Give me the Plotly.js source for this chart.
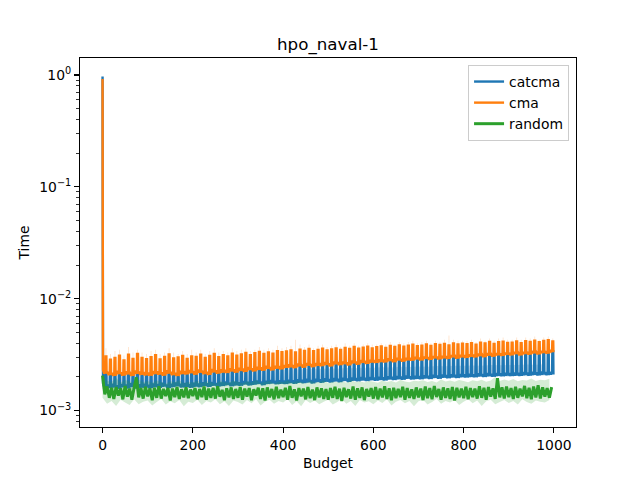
<!DOCTYPE html>
<html>
<head>
<meta charset="utf-8">
<script src="https://cdn.plot.ly/plotly-3.0.1.min.js"></script>
<style>
  html, body { margin: 0; padding: 0; background: #fff; }
  #chart { width: 640px; height: 480px; }
</style>
</head>
<body>
<div id="chart"></div>
<script>
// all readings below are in thousandths of a second (x 1e-3)
var UNIT = 1e-3;

var seriesNames = ['catcma', 'cma', 'random'];
var seriesColors = ['#1f77b4', '#ff7f0e', '#2ca02c'];
var bandColors = ['rgba(31,119,180,0.2)', 'rgba(255,127,14,0.2)', 'rgba(44,160,44,0.2)'];

// first evaluation (budget 0), real seconds
var catcmaStart = 0.97;
var cmaStart = 0.92;

// per 10 evaluations (budget 0, 10, ..., 990): two trough readings and one peak
var catcmaLow = [
  1.75, 1.70, 1.74, 1.68, 1.73, 1.71, 1.76, 1.69, 1.72, 1.74,
  1.70, 1.75, 1.72, 1.77, 1.71, 1.74, 1.78, 1.73, 1.76, 1.72,
  1.77, 1.74, 1.79, 1.75, 1.80, 1.76, 1.78, 1.82, 1.77, 1.81,
  1.79, 1.84, 1.80, 1.83, 1.86, 1.81, 1.85, 1.88, 1.84, 1.87,
  1.85, 1.89, 1.86, 1.91, 1.88, 1.92, 1.87, 1.93, 1.90, 1.94,
  1.91, 1.95, 1.92, 1.97, 1.93, 1.98, 1.95, 1.99, 1.96, 2.00,
  1.97, 2.01, 1.98, 2.03, 2.00, 2.04, 2.01, 2.06, 2.02, 2.05,
  2.03, 2.07, 2.04, 2.09, 2.05, 2.10, 2.07, 2.11, 2.08, 2.12,
  2.10, 2.13, 2.11, 2.15, 2.12, 2.16, 2.13, 2.17, 2.15, 2.18,
  2.16, 2.19, 2.17, 2.21, 2.18, 2.22, 2.19, 2.23, 2.20, 2.22
];
var catcmaLowB = [
  1.62, 1.60, 1.61, 1.57, 1.62, 1.58, 1.63, 1.58, 1.60, 1.61,
  1.59, 1.62, 1.60, 1.64, 1.59, 1.62, 1.65, 1.61, 1.63, 1.60,
  1.64, 1.62, 1.66, 1.63, 1.67, 1.64, 1.66, 1.69, 1.65, 1.68,
  1.67, 1.71, 1.68, 1.71, 1.73, 1.69, 1.73, 1.75, 1.72, 1.74,
  1.73, 1.76, 1.74, 1.78, 1.76, 1.79, 1.75, 1.80, 1.78, 1.81,
  1.79, 1.82, 1.80, 1.84, 1.81, 1.85, 1.83, 1.86, 1.84, 1.87,
  1.85, 1.88, 1.86, 1.90, 1.88, 1.91, 1.89, 1.93, 1.90, 1.92,
  1.91, 1.94, 1.92, 1.96, 1.93, 1.97, 1.95, 1.98, 1.96, 1.99,
  1.98, 2.00, 1.99, 2.02, 2.00, 2.03, 2.01, 2.04, 2.03, 2.05,
  2.04, 2.06, 2.05, 2.08, 2.06, 2.09, 2.07, 2.10, 2.08, 2.10
];
var catcmaPeak = [
  2.20, 2.12, 2.10, 2.18, 2.08, 2.15, 2.05, 2.20, 2.14, 2.10,
  2.08, 2.18, 2.15, 2.10, 2.22, 2.12, 2.08, 2.20, 2.16, 2.24,
  2.15, 2.25, 2.18, 2.12, 2.28, 2.20, 2.26, 2.22, 2.32, 2.25,
  2.34, 2.28, 2.38, 2.30, 2.40, 2.35, 2.44, 2.36, 2.46, 2.42,
  2.48, 2.52, 2.46, 2.58, 2.50, 2.60, 2.52, 2.58, 2.58, 2.64,
  2.56, 2.68, 2.62, 2.68, 2.60, 2.74, 2.66, 2.76, 2.70, 2.78,
  2.75, 2.80, 2.78, 2.86, 2.78, 2.90, 2.82, 2.90, 2.88, 2.96,
  2.88, 2.98, 2.92, 3.02, 2.96, 3.02, 3.00, 3.08, 3.00, 3.08,
  3.05, 3.10, 3.08, 3.16, 3.08, 3.20, 3.12, 3.20, 3.18, 3.24,
  3.20, 3.28, 3.20, 3.30, 3.26, 3.34, 3.26, 3.36, 3.32, 3.40
];

var cmaLow = [
  2.30, 2.21, 2.17, 2.27, 2.19, 2.25, 2.16, 2.28, 2.23, 2.20,
  2.18, 2.26, 2.24, 2.19, 2.29, 2.22, 2.17, 2.27, 2.25, 2.31,
  2.24, 2.33, 2.26, 2.22, 2.35, 2.28, 2.34, 2.31, 2.39, 2.33,
  2.41, 2.37, 2.45, 2.38, 2.46, 2.43, 2.51, 2.44, 2.52, 2.49,
  2.56, 2.59, 2.55, 2.64, 2.57, 2.67, 2.60, 2.66, 2.65, 2.71,
  2.64, 2.74, 2.70, 2.75, 2.69, 2.80, 2.73, 2.83, 2.77, 2.84,
  2.82, 2.87, 2.85, 2.93, 2.86, 2.96, 2.89, 2.97, 2.95, 3.02,
  2.96, 3.05, 2.99, 3.08, 3.03, 3.09, 3.06, 3.14, 3.07, 3.15,
  3.12, 3.18, 3.15, 3.23, 3.16, 3.26, 3.19, 3.27, 3.24, 3.30,
  3.27, 3.35, 3.28, 3.36, 3.33, 3.41, 3.34, 3.42, 3.39, 3.47
];
var cmaLowB = [
  2.14, 2.08, 2.05, 2.12, 2.06, 2.11, 2.04, 2.13, 2.09, 2.07,
  2.05, 2.12, 2.10, 2.06, 2.14, 2.08, 2.04, 2.12, 2.11, 2.16,
  2.10, 2.18, 2.12, 2.09, 2.20, 2.14, 2.19, 2.17, 2.24, 2.19,
  2.26, 2.22, 2.30, 2.24, 2.31, 2.28, 2.36, 2.29, 2.37, 2.34,
  2.41, 2.44, 2.40, 2.49, 2.42, 2.52, 2.45, 2.51, 2.50, 2.56,
  2.49, 2.59, 2.55, 2.60, 2.54, 2.65, 2.58, 2.68, 2.62, 2.69,
  2.67, 2.72, 2.70, 2.78, 2.71, 2.81, 2.74, 2.82, 2.80, 2.87,
  2.81, 2.90, 2.84, 2.93, 2.88, 2.94, 2.91, 2.99, 2.92, 3.00,
  2.97, 3.03, 3.00, 3.08, 3.01, 3.11, 3.04, 3.12, 3.09, 3.15,
  3.12, 3.20, 3.13, 3.21, 3.18, 3.26, 3.19, 3.27, 3.24, 3.32
];
var cmaPeak = [
  3.05, 2.85, 2.95, 3.10, 2.80, 3.15, 2.90, 3.20, 2.95, 2.88,
  3.00, 3.12, 2.86, 3.02, 3.18, 2.92, 2.98, 3.08, 2.90, 3.05,
  3.02, 3.15, 2.95, 3.08, 3.20, 3.00, 3.12, 3.05, 3.22, 3.10,
  3.18, 3.28, 3.12, 3.25, 3.35, 3.20, 3.30, 3.22, 3.40, 3.32,
  3.38, 3.45, 3.30, 3.50, 3.42, 3.55, 3.40, 3.48, 3.58, 3.45,
  3.52, 3.60, 3.48, 3.62, 3.55, 3.70, 3.58, 3.65, 3.72, 3.60,
  3.68, 3.75, 3.62, 3.78, 3.70, 3.82, 3.72, 3.80, 3.88, 3.76,
  3.80, 3.90, 3.78, 3.92, 3.85, 3.95, 3.82, 3.98, 3.90, 3.96,
  3.92, 4.00, 3.88, 4.05, 3.98, 4.10, 3.95, 4.08, 4.12, 4.02,
  4.05, 4.15, 4.00, 4.18, 4.10, 4.22, 4.08, 4.20, 4.25, 4.15
];
// upper edge of the cma spread at each peak
var cmaPeakTop = [
  3.6, 3.2, 3.4, 3.5, 3.1, 3.7, 3.3, 3.5, 3.3, 3.2,
  3.4, 3.5, 3.2, 3.3, 3.6, 3.3, 3.2, 3.4, 3.2, 3.5,
  3.3, 3.5, 3.2, 3.4, 3.6, 3.3, 3.4, 3.3, 3.6, 3.4,
  3.5, 3.6, 3.4, 3.5, 3.7, 3.5, 3.6, 3.5, 3.8, 3.6,
  3.7, 3.8, 4.3, 3.9, 3.7, 3.9, 3.6, 3.8, 3.9, 3.7,
  3.8, 3.9, 3.7, 4.0, 3.8, 4.0, 3.8, 3.9, 4.0, 3.9,
  3.9, 4.0, 3.9, 4.1, 3.9, 4.1, 4.0, 4.1, 4.2, 4.0,
  4.1, 4.2, 4.0, 4.2, 4.1, 4.3, 4.7, 4.3, 4.2, 4.2,
  4.2, 4.3, 4.1, 4.4, 4.2, 4.4, 4.2, 4.4, 4.5, 4.3,
  4.3, 4.5, 4.3, 4.5, 4.4, 4.6, 4.3, 4.5, 4.6, 4.4
];

// catcma spread, one pair per 20 evaluations (budget 0, 20, ..., 980)
var catcmaBandLow = [
  1.56, 1.54, 1.58, 1.55, 1.59, 1.57, 1.61, 1.60, 1.63, 1.62,
  1.65, 1.64, 1.68, 1.66, 1.70, 1.69, 1.72, 1.71, 1.75, 1.73,
  1.77, 1.76, 1.79, 1.78, 1.82, 1.80, 1.84, 1.83, 1.86, 1.85,
  1.88, 1.87, 1.90, 1.89, 1.93, 1.91, 1.95, 1.94, 1.97, 1.96,
  1.99, 1.98, 2.01, 2.00, 2.03, 2.01, 2.05, 2.03, 2.06, 2.05
];
var catcmaBandHigh = [
  2.08, 2.10, 2.09, 2.13, 2.11, 2.15, 2.14, 2.17, 2.16, 2.20,
  2.19, 2.22, 2.21, 2.25, 2.24, 2.27, 2.26, 2.30, 2.29, 2.32,
  2.31, 2.34, 2.33, 2.36, 2.35, 2.38, 2.37, 2.40, 2.39, 2.42,
  2.41, 2.44, 2.43, 2.46, 2.45, 2.48, 2.47, 2.50, 2.49, 2.52,
  2.51, 2.53, 2.52, 2.55, 2.54, 2.56, 2.55, 2.58, 2.57, 2.59
];

// random, one reading per 5 evaluations (budget 0, 5, ..., 995)
var randomTime = [
  2.05, 1.40, 1.64, 1.30, 1.60, 1.27, 1.62, 1.36, 1.58, 1.26, 1.66, 1.33, 1.57, 1.25, 1.61, 1.98, 1.31, 1.59, 1.28, 1.63,
  1.34, 1.58, 1.24, 1.60, 1.30, 1.65, 1.28, 1.56, 1.35, 1.59, 1.23, 1.57, 1.32, 1.62, 1.27, 1.55, 1.31, 1.61, 1.29, 1.54,
  1.35, 1.59, 1.26, 1.56, 1.32, 1.64, 1.25, 1.57, 1.30, 1.60, 1.28, 1.65, 1.33, 1.53, 1.24, 1.58, 1.31, 1.61, 1.27, 1.56,
  1.30, 1.62, 1.25, 1.57, 1.33, 1.59, 1.24, 1.55, 1.36, 1.60, 1.27, 1.58, 1.23, 1.61, 1.31, 1.56, 1.26, 1.63, 1.29, 1.54,
  1.32, 1.60, 1.25, 1.66, 1.30, 1.55, 1.23, 1.59, 1.34, 1.57, 1.26, 1.62, 1.29, 1.54, 1.24, 1.61, 1.31, 1.58, 1.27, 1.56,
  1.25, 1.59, 1.30, 1.63, 1.27, 1.57, 1.22, 1.60, 1.32, 1.55, 1.28, 1.64, 1.25, 1.58, 1.30, 1.61, 1.24, 1.56, 1.33, 1.59,
  1.28, 1.62, 1.26, 1.57, 1.31, 1.65, 1.27, 1.58, 1.24, 1.60, 1.29, 1.56, 1.32, 1.63, 1.25, 1.59, 1.30, 1.55, 1.27, 1.61,
  1.31, 1.57, 1.24, 1.64, 1.29, 1.59, 1.26, 1.66, 1.32, 1.56, 1.25, 1.61, 1.30, 1.58, 1.27, 1.62, 1.23, 1.60, 1.31, 1.57,
  1.29, 1.63, 1.26, 1.59, 1.32, 1.57, 1.28, 1.65, 1.30, 1.60, 1.25, 1.62, 1.33, 1.58, 1.27, 1.95, 1.31, 1.61, 1.28, 1.64,
  1.32, 1.59, 1.27, 1.63, 1.30, 1.57, 1.34, 1.66, 1.29, 1.60, 1.26, 1.64, 1.31, 1.68, 1.28, 1.61, 1.33, 1.59, 1.30, 1.62
];
// random spread, one pair per 10 evaluations
var randomBandLow = [
  1.30, 1.15, 1.22, 1.10, 1.25, 1.18, 1.12, 1.26, 1.14, 1.20,
  1.23, 1.11, 1.19, 1.27, 1.13, 1.21, 1.16, 1.24, 1.09, 1.20,
  1.17, 1.25, 1.12, 1.22, 1.18, 1.26, 1.14, 1.21, 1.10, 1.23,
  1.19, 1.13, 1.24, 1.16, 1.27, 1.11, 1.20, 1.25, 1.15, 1.22,
  1.18, 1.26, 1.12, 1.21, 1.09, 1.24, 1.17, 1.23, 1.14, 1.20,
  1.25, 1.13, 1.19, 1.27, 1.15, 1.22, 1.10, 1.24, 1.18, 1.21,
  1.14, 1.23, 1.17, 1.26, 1.11, 1.20, 1.24, 1.16, 1.22, 1.09,
  1.21, 1.25, 1.13, 1.19, 1.27, 1.15, 1.22, 1.18, 1.24, 1.12,
  1.20, 1.26, 1.16, 1.23, 1.10, 1.21, 1.25, 1.14, 1.19, 1.24,
  1.17, 1.22, 1.13, 1.26, 1.19, 1.15, 1.23, 1.20, 1.18, 1.24
];
var randomBandHigh = [
  2.10, 1.85, 1.80, 1.95, 1.78, 1.88, 1.82, 1.76, 1.90, 1.79,
  1.84, 1.77, 1.86, 1.80, 1.74, 1.83, 1.79, 1.87, 1.75, 1.81,
  1.78, 1.85, 1.76, 1.82, 1.80, 1.73, 1.84, 1.79, 1.77, 1.86,
  1.81, 1.75, 1.83, 1.78, 1.88, 1.76, 1.80, 1.84, 1.74, 1.82,
  1.79, 1.86, 1.77, 1.83, 1.81, 1.75, 1.85, 1.78, 1.80, 1.87,
  1.76, 1.82, 1.79, 1.84, 1.77, 1.89, 1.80, 1.83, 1.78, 1.85,
  1.81, 1.77, 1.86, 1.80, 1.84, 1.78, 1.88, 1.82, 1.79, 1.85,
  1.83, 1.87, 1.80, 1.84, 1.78, 1.90, 1.82, 1.86, 1.81, 1.88,
  1.84, 1.79, 1.87, 1.83, 1.89, 1.81, 1.86, 2.00, 1.84, 1.90,
  1.85, 1.91, 1.83, 1.88, 1.86, 1.93, 1.84, 1.89, 1.87, 1.92
];

var xTicks = [0, 200, 400, 600, 800, 1000];
var yTicks = [1e-3, 1e-2, 1e-1, 1];
var yTickText = ['10<sup>\u22123</sup>', '10<sup>\u22122</sup>', '10<sup>\u22121</sup>', '10<sup>0</sup>'];

// periodic series: noisy trough, one narrow peak every 10 evaluations
function spiky(start, lowA, lowB, peak) {
  var x = [0], y = [start];
  for (var k = 0; k < lowA.length; k++) {
    var b = 10 * k;
    x.push(b + 1, b + 3.5, b + 6, b + 6.5, b + 8.5, b + 9);
    y.push(lowA[k] * UNIT, lowB[k] * UNIT, lowA[k] * UNIT, peak[k] * UNIT, peak[k] * UNIT, lowB[k] * UNIT);
  }
  return {x: x, y: y};
}

function band(step, lo, hi) {
  var x = [], y = [];
  for (var i = 0; i < hi.length; i++) { x.push(step * i); y.push(hi[i] * UNIT); }
  for (var j = lo.length - 1; j >= 0; j--) { x.push(step * j); y.push(lo[j] * UNIT); }
  return {x: x, y: y};
}

var catLine = spiky(catcmaStart, catcmaLow, catcmaLowB, catcmaPeak);
var cmaLine = spiky(cmaStart, cmaLow, cmaLowB, cmaPeak);
var cmaTop = spiky(cmaStart, cmaLow, cmaLowB, cmaPeakTop);
var catBand = band(20, catcmaBandLow, catcmaBandHigh);
var rndBand = band(10, randomBandLow, randomBandHigh);

var randomX = randomTime.map(function (v, i) { return 5 * i; });
var randomY = randomTime.map(function (v) { return v * UNIT; });

var data = [
  {x: catBand.x, y: catBand.y, fill: 'toself', fillcolor: bandColors[0], mode: 'lines',
   line: {width: 0, simplify: false}, showlegend: false, hoverinfo: 'skip'},
  {x: catLine.x, y: catLine.y, name: seriesNames[0], mode: 'lines',
   line: {color: seriesColors[0], width: 2.4, simplify: false}},
  {x: cmaLine.x, y: cmaLine.y, name: seriesNames[1], mode: 'lines',
   line: {color: seriesColors[1], width: 2.4, simplify: false}},
  {x: cmaTop.x, y: cmaTop.y, fill: 'tonexty', fillcolor: bandColors[1], mode: 'lines',
   line: {width: 0, simplify: false}, showlegend: false, hoverinfo: 'skip'},
  {x: rndBand.x, y: rndBand.y, fill: 'toself', fillcolor: bandColors[2], mode: 'lines',
   line: {width: 0, simplify: false}, showlegend: false, hoverinfo: 'skip'},
  {x: randomX, y: randomY, name: seriesNames[2], mode: 'lines',
   line: {color: seriesColors[2], width: 3, simplify: false}}
];

// minor ticks 2..9 inside each decade
var minorTicks = [];
[-4, -3, -2, -1, 0].forEach(function (d) {
  for (var m = 2; m <= 9; m++) minorTicks.push(m * Math.pow(10, d));
});

var font = {family: 'DejaVu Sans, sans-serif', size: 13.9, color: '#000'};

var layout = {
  width: 640, height: 480,
  margin: {l: 80, r: 64, t: 57.6, b: 52.8, pad: 0},
  paper_bgcolor: '#fff', plot_bgcolor: '#fff',
  font: font,
  title: {text: 'hpo_naval-1', font: {family: 'DejaVu Sans, sans-serif', size: 16.7, color: '#000'},
          x: 0.5, xref: 'paper', y: 1 - 44 / 480, yref: 'container', yanchor: 'middle'},
  xaxis: {
    range: [-49.95, 1048.95], tickvals: xTicks, ticks: 'outside', ticklen: 4.9, tickwidth: 1.1,
    tickcolor: '#000', showline: true, mirror: true, linecolor: '#000', linewidth: 1.1,
    showgrid: false, zeroline: false, tickfont: font,
    title: {text: 'Budget', font: font, standoff: 6}
  },
  yaxis: {
    type: 'log', range: [-3.147, 0.152], tickvals: yTicks, ticktext: yTickText,
    ticks: 'outside', ticklen: 4.9, tickwidth: 1.1, tickcolor: '#000',
    showline: true, mirror: true, linecolor: '#000', linewidth: 1.1,
    showgrid: false, zeroline: false, tickfont: font,
    minor: {tickvals: minorTicks, ticks: 'outside', ticklen: 2.8, tickwidth: 0.8, tickcolor: '#000', showgrid: false},
    title: {text: 'Time', font: font, standoff: 6}
  },
  legend: {
    x: 0.986, y: 0.981, xanchor: 'right', yanchor: 'top', traceorder: 'normal',
    bgcolor: 'rgba(255,255,255,0.8)', bordercolor: '#cccccc', borderwidth: 1,
    font: font, tracegroupgap: 0
  },
  showlegend: true
};

Plotly.newPlot('chart', data, layout, {displayModeBar: false, staticPlot: true});
</script>
</body>
</html>
